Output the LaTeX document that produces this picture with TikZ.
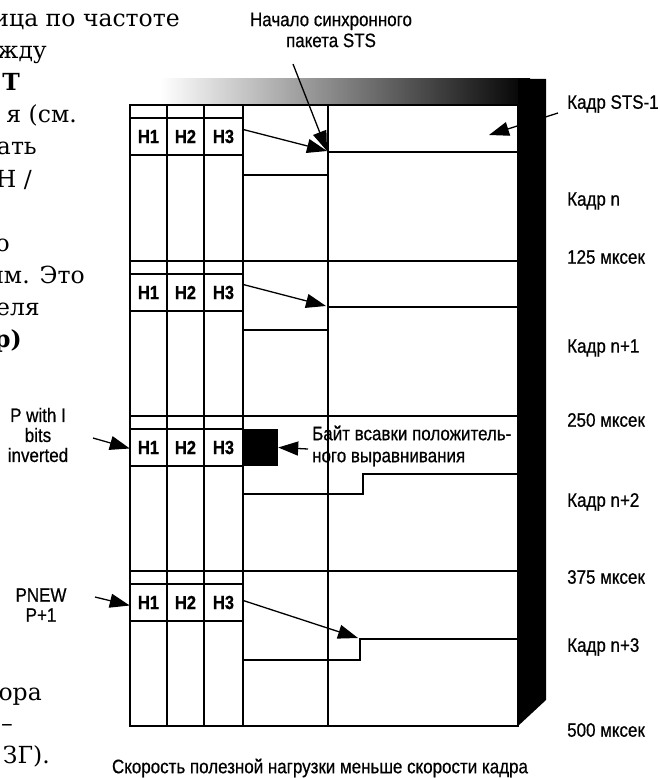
\documentclass[tikz,border=0pt]{standalone}
\usepackage{fontspec}
\setmainfont[FakeStretch=0.87, FakeBold=0.6]{Liberation Sans}
\newfontfamily\bookfont{DejaVu Serif}
\usepackage{tikz}
\usetikzlibrary{arrows.meta, calc}

\begin{document}
\begin{tikzpicture}[x=1pt, y=-1pt,
  grid/.style={line width=1.3pt},
  hcell/.style={font=\fontsize{19}{20}\selectfont\bfseries, minimum width=37pt, minimum height=37pt, inner sep=0pt},
  note/.style={font=\fontsize{19.5}{21}\selectfont, inner sep=0pt, align=center},
  ptr/.style={line width=1.3pt, -{Triangle[length=20pt, width=14pt]}},
  book/.style={font=\bookfont\fontsize{23.5}{32}\selectfont, anchor=base east, inner sep=0pt}
]
  \useasboundingbox (0,0) rectangle (659,778);

  \node[book] (bk1) at (180,27) {ица по частоте};
  \node[book] (bk2) at (47,59) {жду};
  \node[book, font=\bookfont\bfseries\fontsize{23.5}{32}\selectfont] (bk3) at (20,91) {Т};
  \node[book] (bk4) at (77,123) {я (см.};
  \node[book] (bk5) at (37,155) {ать};
  \node[book] (bk6) at (32,187) {Н /};
  \node[book] (bk7) at (10,251) {о};
  \node[book] (bk8) at (85,283) {им. Это};
  \node[book] (bk9) at (40,315) {еля};
  \node[book, font=\bookfont\bfseries\fontsize{23.5}{32}\selectfont] (bk10) at (22,347) {р)};
  \node[book] (bk11) at (42,700) {ора};
  \node[book] (bk12) at (13,731) {–};
  \node[book] (bk13) at (50,763) {ЗГ).};

  \shade[left color=white, right color=black] (160,79) rectangle (530,105);
  \fill (518,79) -- (546,79) -- (546,700) -- (518,726) -- cycle;
  \draw[grid, fill=white] (130,105) rectangle (518,726);
  \foreach \x in {167,204,243,328}
    \draw[grid] (\x,105) -- (\x,726);

  \foreach \t/\n in {105/a,261/b,416/c,571/d} {
    \draw[grid] (130,\t) -- (518,\t);
    \draw[grid] (130,{\t+13}) -- (243,{\t+13});
    \draw[grid] (130,{\t+50}) -- (243,{\t+50});
    \node[hcell] (h1\n) at (148.5,{\t+31.5}) {H1};
    \node[hcell] (h2\n) at (185.5,{\t+31.5}) {H2};
    \node[hcell, minimum width=39pt] (h3\n) at (223.5,{\t+31.5}) {H3};
  }

  \draw[grid] (243,175) -- (328,175);
  \draw[grid] (328,152) -- (518,152);
  \draw[grid] (243,330) -- (328,330);
  \draw[grid] (328,307) -- (518,307);
  \draw[grid] (243,494) -- (363,494) -- (363,474) -- (518,474);
  \draw[grid] (243,660) -- (360,660) -- (360,639) -- (518,639);

  \node[fill=black, minimum width=35pt, minimum height=37pt, inner sep=0pt] (stuff) at (260.5,447.5) {};

  \node[note] (start) at (331,30) {Начало синхронного\\пакета STS};
  \node[note, anchor=west] (kadr0) at (567,104) {Кадр STS-1};
  \node[note, anchor=west] (kadrn) at (567,201) {Кадр n};
  \node[note, anchor=west] (t125) at (567,257) {125 мксек};
  \node[note, anchor=west] (kadr1) at (567,348) {Кадр n+1};
  \node[note, anchor=west] (t250) at (567,420) {250 мксек};
  \node[note, anchor=west] (kadr2) at (567,502) {Кадр n+2};
  \node[note, anchor=west] (t375) at (567,577) {375 мксек};
  \node[note, anchor=west] (kadr3) at (567,647) {Кадр n+3};
  \node[note, anchor=west] (t500) at (567,730) {500 мксек};
  \node[note, font=\fontsize{19.5}{20}\selectfont] (pinv) at (38,435) {P with I\\bits\\inverted};
  \node[note, font=\fontsize{19.5}{20}\selectfont] (pnew) at (41,605) {PNEW\\P+1};
  \node[note, align=left, anchor=west, font=\fontsize{19.5}{22}\selectfont] (stufftxt) at (312,446) {Байт всавки положитель-\\ного выравнивания};
  \node[note] (rate) at (320,768) {Скорость полезной нагрузки меньше скорости кадра};

  \coordinate (s0) at (293,64);
  \coordinate (p1) at (327,151);
  \coordinate (p2) at (326,306);
  \coordinate (p4) at (358,638);
  \coordinate (sts) at (489,135);
  \coordinate (k0) at (558,113);
  \coordinate (q1) at (93,438);
  \coordinate (q2) at (95,597);
  \coordinate (b0) at (308,449);

  \draw[ptr] (s0) -- (p1);
  \draw[ptr] ([yshift=7pt]h3a.east) -- (p1);
  \draw[ptr] ([yshift=8pt]h3b.east) -- (p2);
  \draw[ptr] ([yshift=2pt]h3d.east) -- (p4);
  \draw[ptr] (k0) -- (sts);
  \draw[ptr] (q1) -- ([yshift=-1pt]h1c.west);
  \draw[ptr] (q2) -- ([yshift=-3pt]h1d.west);
  \draw[ptr] (b0) -- (stuff.east);
\end{tikzpicture}
\end{document}
